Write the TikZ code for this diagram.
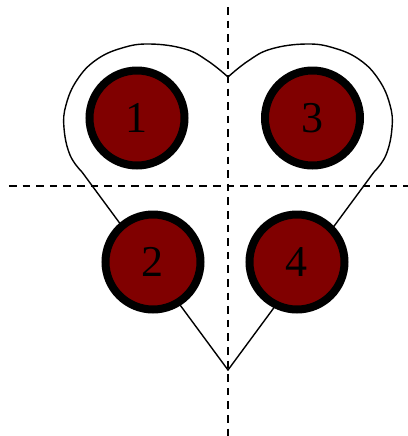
\documentclass[tikz,border=0pt]{standalone}
\usepackage{fontspec}
\setmainfont{Liberation Serif}
\usepackage{xcolor}
\usepackage{tikz}
\usetikzlibrary{calc}
\definecolor{pinred}{HTML}{800000}

\begin{document}
\begin{tikzpicture}[
  x=0.5pt, y=-0.5pt,
  font=\fontsize{22}{24}\selectfont,
  pin/.style={circle, draw=black, fill=pinred, line width=4pt,
              minimum size=47.5pt, inner sep=0pt},
  axis/.style={line width=0.9pt, dash pattern=on 3.8pt off 3pt},
  outline/.style={line width=0.7pt, line join=miter}
]
\useasboundingbox (0,0) rectangle (408,436);
% heart outline
\draw[outline] plot[smooth, tension=0.7] coordinates {
    (82,172) (70,155) (64,128) (66,105) (77,80) (96,60)
    (122,48) (150,44) (185,49) (208,61) (228,77)}
  -- plot[smooth, tension=0.7] coordinates {
    (228,77) (248,61) (271,49) (306,44) (334,48) (360,60)
    (379,80) (390,105) (392,128) (386,155) (374,172)}
  -- (228,370) -- cycle;
% axes
\coordinate (ytop) at (228,7);
\coordinate (ybot) at (228,436);
\coordinate (xl) at (9,186);
\coordinate (xr) at (408,186);
\draw[axis] (ytop) -- (ybot);
\draw[axis] (xl) -- (xr);
% pins
\node[pin] (c1) at (137,118) {1};
\node[pin] (c3) at (312.5,118) {3};
\node[pin] (c2) at (153,262) {2};
\node[pin] (c4) at (297,262) {4};
\end{tikzpicture}
\end{document}
